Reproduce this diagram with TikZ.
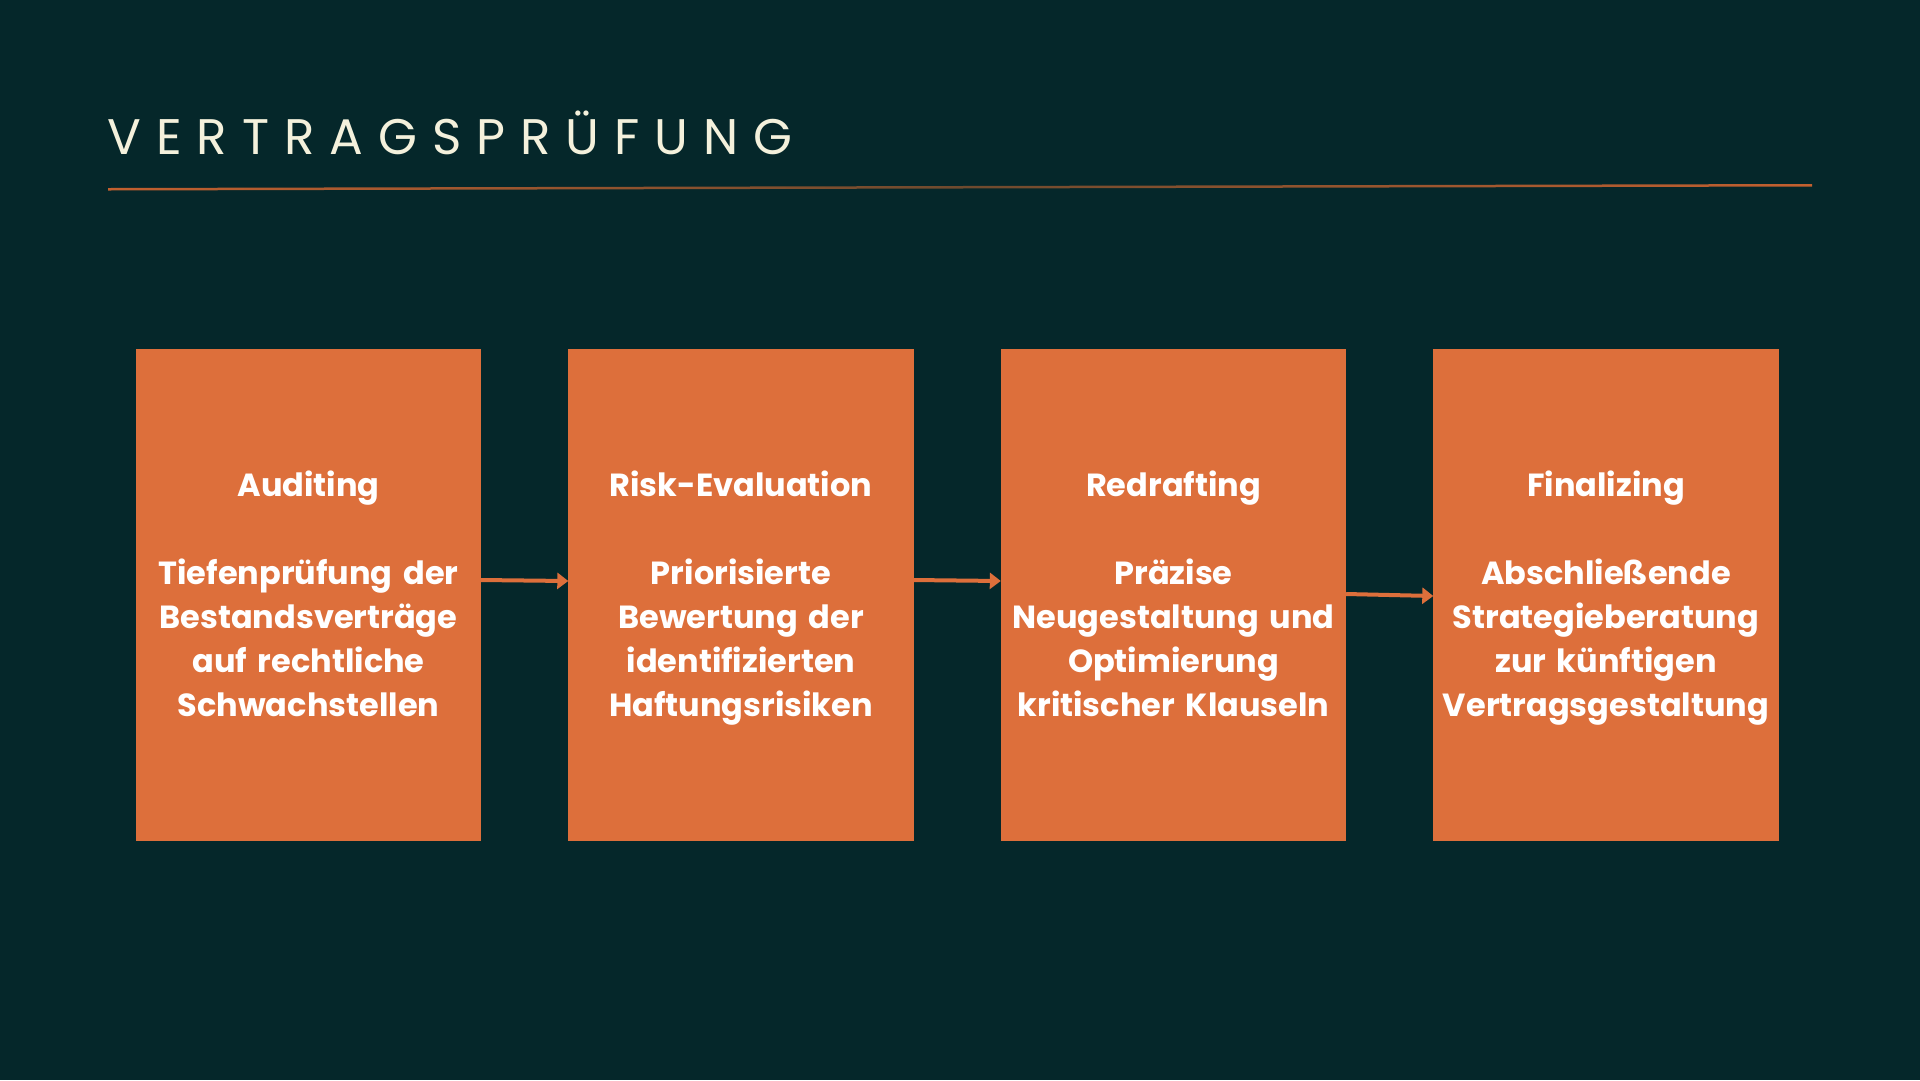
\documentclass[tikz,border=0pt]{standalone}
\usepackage{fontspec}
\setmainfont{Poppins}
\newfontfamily\titlefont[LetterSpace=30]{Poppins}
\usetikzlibrary{matrix,arrows.meta}
\definecolor{bgteal}{HTML}{05272A}
\definecolor{boxorange}{HTML}{DD6F3B}
\definecolor{titlecream}{HTML}{F4F1DC}
\definecolor{rulebrown}{HTML}{6E4A2E}
\definecolor{ruleorange}{HTML}{C3602F}
\tikzset{
stage/.style={fill=boxorange,text=white,minimum width=345pt,minimum height=492pt,inner sep=0pt,text width=340pt,align=center,font=\bfseries\fontsize{32}{44}\selectfont,execute at begin node=\rule{0pt}{33pt},execute at end node=\rule[-11pt]{0pt}{11pt}},
flow/.style={color=boxorange,line width=4pt,-{Triangle[length=11pt,width=16pt]}}
}
\begin{document}
\begin{tikzpicture}[x=1pt,y=-1pt]
\fill[bgteal] (0,0) rectangle (1920,1080);
\useasboundingbox (0,0) rectangle (1920,1080);
\node[anchor=base west,inner sep=0pt,text=titlecream,font=\titlefont\fontsize{50}{60}\selectfont] (title) at (107,154) {VERTRAGSPRÜFUNG};
\shade[left color=ruleorange,right color=ruleorange,middle color=rulebrown] (108,188) -- (1812,184) -- (1812,186.5) -- (108,190.5) -- cycle;
\matrix (m) [matrix of nodes,nodes={stage,anchor=center},column sep=87.5pt,inner sep=0pt] at (957.25,595)
{
	{Auditing\\[44pt]Tiefenprüfung der\\Bestandsverträge\\auf rechtliche\\Schwachstellen} &
	{Risk-Evaluation\\[44pt]Priorisierte\\Bewertung der\\identifizierten\\Haftungsrisiken} &
	{Redrafting\\[44pt]Präzise\\Neugestaltung und\\Optimierung\\kritischer Klauseln} &
	{Finalizing\\[44pt]Abschließende\\Strategieberatung\\zur künftigen\\Vertragsgestaltung} \\};
\path[flow]
([yshift=15pt]m-1-1.east) edge ([yshift=14pt]m-1-2.west)
([yshift=15pt]m-1-2.east) edge ([yshift=14pt]m-1-3.west)
([yshift=1pt]m-1-3.east) edge ([yshift=-1pt]m-1-4.west);
\end{tikzpicture}
\end{document}
